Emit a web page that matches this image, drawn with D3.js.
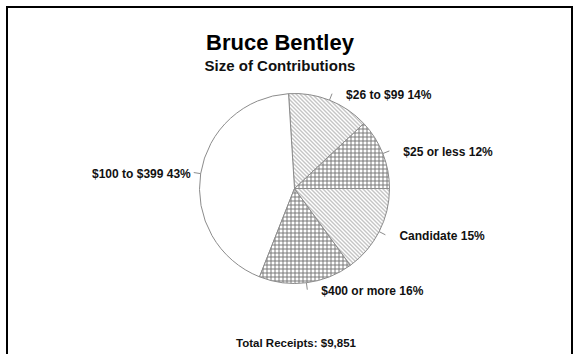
<!DOCTYPE html>
<html>
<head>
<meta charset="utf-8">
<script src="https://cdn.jsdelivr.net/npm/d3@7"></script>
<style>
  html, body { margin: 0; padding: 0; background: #fff; }
  svg { display: block; }
  text { font-family: "Liberation Sans", Arial, sans-serif; }
</style>
</head>
<body>
<svg id="chart" width="579" height="354"></svg>
<script>
// ---- data ----
const title = "Bruce Bentley";
const subtitle = "Size of Contributions";
const categories = ["$25 or less", "$26 to $99", "$100 to $399", "$400 or more", "Candidate"];
const percents = [12, 14, 43, 16, 15];
const totalLabel = "Total Receipts: $9,851";

// ---- styles ----
const fillKind = { "$25 or less": "grid", "$26 to $99": "hatch", "$100 to $399": "none", "$400 or more": "grid", "Candidate": "hatch" };

const W = 579, H = 354;
const svg = d3.select("#chart");

// frame
svg.append("path")
  .attr("d", "M7,354 L7,7 L572,7 L572,354")
  .attr("fill", "none").attr("stroke", "#000").attr("stroke-width", 2);

const defs = svg.append("defs");
const hatch = defs.append("pattern").attr("id", "hatch")
  .attr("patternUnits", "userSpaceOnUse").attr("width", 4).attr("height", 4);
hatch.append("rect").attr("width", 4).attr("height", 4).attr("fill", "#fff");
hatch.append("path").attr("d", "M-1,-1 L5,5 M-1,3 L1,5 M3,-1 L5,1")
  .attr("stroke", "#8a8a8a").attr("stroke-width", 1);

const grid = defs.append("pattern").attr("id", "grid")
  .attr("patternUnits", "userSpaceOnUse").attr("width", 4).attr("height", 4);
grid.append("rect").attr("width", 4).attr("height", 4).attr("fill", "#fff");
grid.append("path").attr("d", "M0,0.5 L4,0.5 M0.5,0 L0.5,4")
  .attr("stroke", "#7a7a7a").attr("stroke-width", 1);

// titles
svg.append("text").attr("x", 280).attr("y", 50).attr("text-anchor", "middle")
  .attr("font-size", 22).attr("font-weight", "bold").attr("fill", "#000").text(title);
svg.append("text").attr("x", 280).attr("y", 71).attr("text-anchor", "middle")
  .attr("font-size", 15).attr("font-weight", "bold").attr("fill", "#111").text(subtitle);

// pie
const cx = 294.5, cy = 188.5, r = 95, tick = 7;
const data = categories.map((c, i) => ({ cat: c, pct: percents[i] }));
const pie = d3.pie().sort(null).value(d => d.pct)
  .startAngle(Math.PI / 2).endAngle(Math.PI / 2 - 2 * Math.PI);
const arcs = pie(data);
const arc = d3.arc().innerRadius(0).outerRadius(r);

const g = svg.append("g").attr("transform", `translate(${cx},${cy})`);
g.selectAll("path.slice").data(arcs).join("path")
  .attr("class", "slice")
  .attr("d", arc)
  .attr("fill", d => fillKind[d.data.cat] === "none" ? "#fff" : `url(#${fillKind[d.data.cat]})`)
  .attr("stroke", "#8c8c8c").attr("stroke-width", 1);

// leader ticks and labels
arcs.forEach(d => {
  const mid = (d.startAngle + d.endAngle) / 2;
  const sx = Math.sin(mid), sy = -Math.cos(mid);
  const x1 = sx * r, y1 = sy * r, x2 = sx * (r + tick), y2 = sy * (r + tick);
  g.append("line").attr("x1", x1).attr("y1", y1).attr("x2", x2).attr("y2", y2)
    .attr("stroke", "#8c8c8c").attr("stroke-width", 1);
  const right = sx >= 0;
  g.append("text")
    .attr("x", right ? x2 + 14 : x2 - 3)
    .attr("y", y2 + 1)
    .attr("dy", "0.35em")
    .attr("text-anchor", right ? "start" : "end")
    .attr("font-size", 12).attr("font-weight", "bold").attr("fill", "#111")
    .text(`${d.data.cat} ${d.data.pct}%`);
});

svg.append("text").attr("x", 296).attr("y", 347).attr("text-anchor", "middle")
  .attr("font-size", 11.5).attr("font-weight", "bold").attr("fill", "#111").text(totalLabel);
</script>
</body>
</html>
